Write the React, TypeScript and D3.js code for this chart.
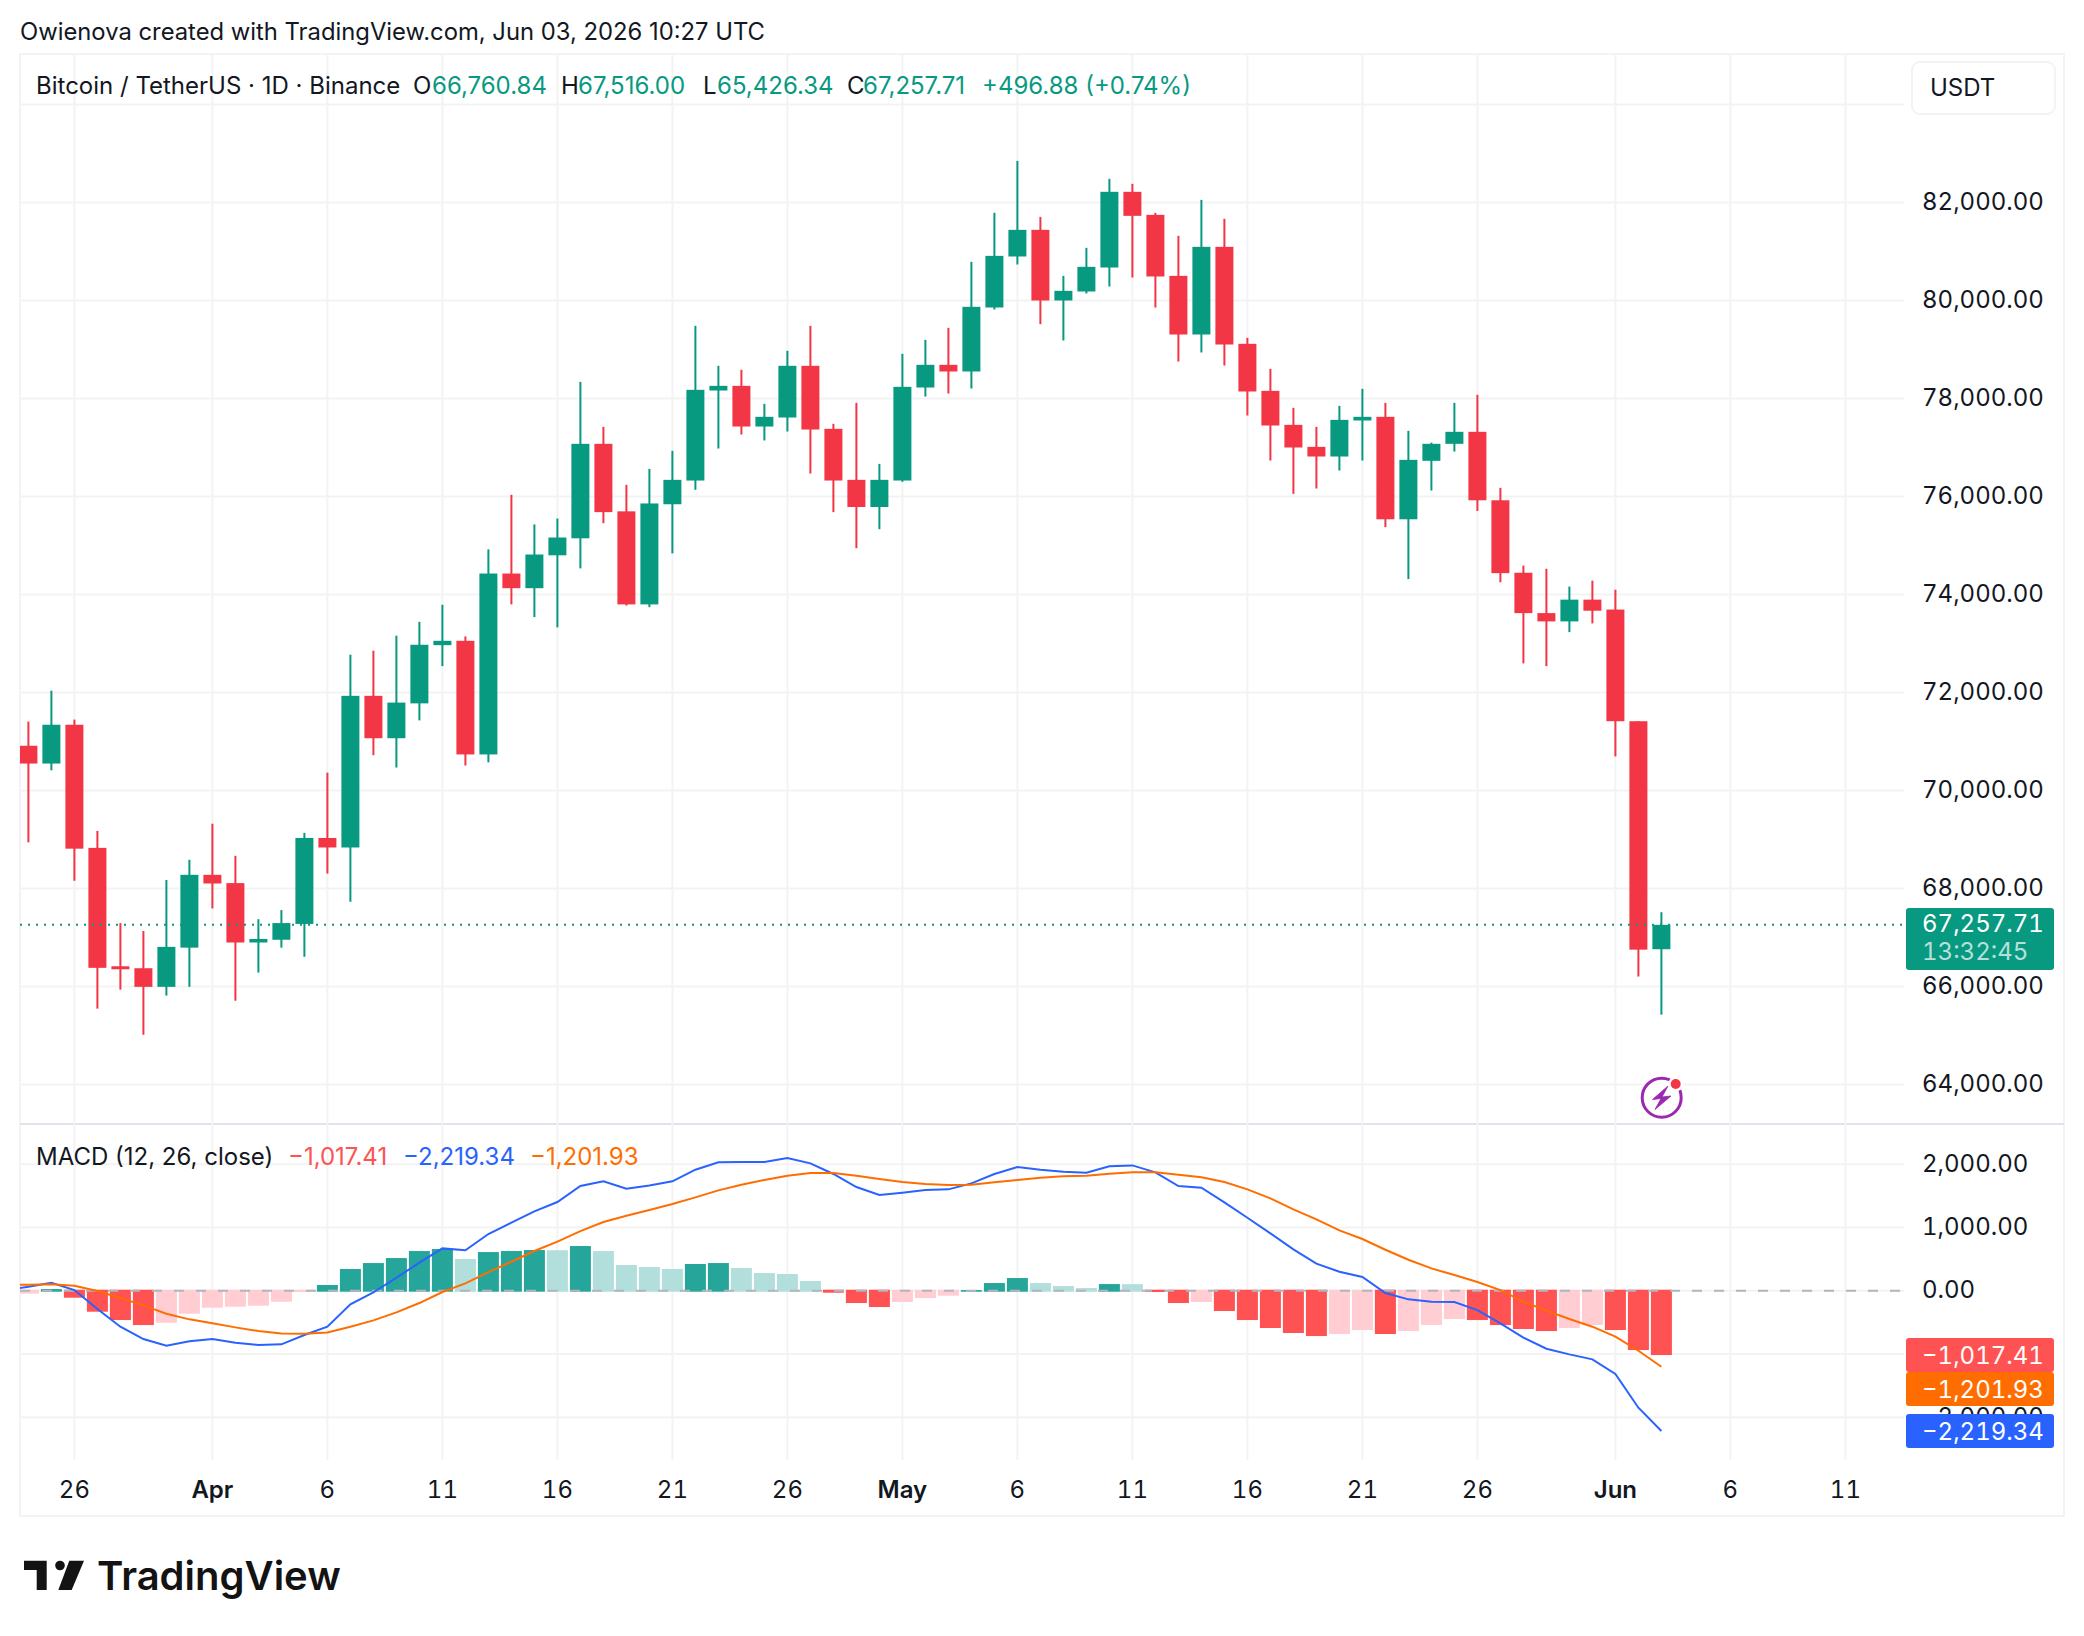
import React from "react";
import * as d3 from "d3";

// daily candles, Mar 24 -> Jun 3
const opens = [70913, 70550, 71342, 68829, 66413, 66373, 65993, 66793, 68279, 68110, 66898, 66954, 67277, 69031, 68837, 71932, 71067, 71778, 72966, 73055, 70736, 74428, 74129, 74800, 75147, 77075, 75697, 73798, 75842, 76326, 78163, 78258, 77428, 77612, 78667, 77381, 76340, 75786, 76326, 78224, 78687, 78551, 79857, 80898, 81442, 80000, 80184, 80673, 82218, 81748, 80503, 79306, 81095, 79116, 78156, 77462, 77013, 76816, 77551, 77626, 75535, 76728, 77075, 77320, 75923, 74444, 73620, 73451, 73895, 73693, 71414, 66760.84];
const highs = [71406, 72037, 71447, 69176, 67294, 67132, 68174, 68586, 69322, 68667, 67374, 67560, 69136, 70364, 72772, 72853, 73160, 73442, 73790, 73144, 74921, 76034, 75430, 75551, 78340, 77421, 76238, 76564, 76932, 79483, 78667, 78585, 77891, 78973, 79483, 77483, 77911, 76666, 78911, 79197, 79442, 80789, 81789, 82850, 81707, 80503, 81075, 82483, 82381, 81789, 81320, 82054, 81667, 79238, 78605, 77809, 77421, 77850, 78197, 77911, 77340, 77100, 77911, 78075, 76177, 74590, 74525, 74162, 74283, 74097, 71414, 67516];
const lows = [68942, 70412, 68158, 65548, 65936, 65015, 65815, 65993, 67593, 65710, 66284, 66793, 66607, 68304, 67730, 70720, 70469, 71431, 72538, 70509, 70574, 73798, 73539, 73329, 74533, 75455, 73774, 73741, 74840, 76136, 76979, 77265, 77143, 77326, 76469, 75681, 74945, 75333, 76300, 78041, 78102, 78204, 79816, 80735, 79517, 79184, 80143, 80286, 80469, 79857, 78755, 78939, 78673, 77653, 76734, 76054, 76163, 76530, 76734, 75374, 74315, 76122, 76918, 75705, 74250, 72594, 72538, 73232, 73410, 70695, 66203, 65426.34];
const closes = [70550, 71342, 68813, 66381, 66381, 65993, 66809, 68279, 68102, 66898, 66970, 67294, 69031, 68837, 71932, 71067, 71794, 72974, 73055, 70736, 74428, 74129, 74816, 75163, 77075, 75681, 73798, 75858, 76340, 78177, 78258, 77428, 77626, 78667, 77367, 76326, 75786, 76340, 78238, 78687, 78551, 79871, 80911, 81442, 80000, 80197, 80687, 82218, 81728, 80490, 79306, 81095, 79102, 78143, 77449, 77000, 76816, 77564, 77626, 75535, 76748, 77075, 77320, 75923, 74436, 73620, 73451, 73895, 73669, 71414, 66752, 67257.71];

// MACD pane, the two lines start one day earlier (Mar 23) and run off the left edge
const histogram = [-47, 26, -111, -332, -464, -543, -506, -364, -269, -253, -237, -174, -21, 90, 343, 437, 516, 627, 659, 501, 611, 627, 643, 640, 706, 627, 406, 374, 343, 422, 437, 358, 279, 264, 153, -32, -195, -258, -179, -116, -79, 10, 121, 200, 121, 74, 42, 105, 103, -21, -195, -179, -321, -464, -590, -669, -717, -685, -622, -685, -638, -543, -448, -464, -543, -606, -638, -590, -543, -622, -938, -1017.41];
const histBefore = -60;
const macdLine = [10, 63, 126, 10, -290, -569, -764, -870, -801, -764, -822, -859, -848, -701, -569, -216, -26, 205, 443, 669, 638, 896, 1075, 1254, 1402, 1655, 1729, 1613, 1665, 1729, 1913, 2029, 2034, 2034, 2097, 2013, 1845, 1639, 1512, 1549, 1592, 1602, 1697, 1845, 1955, 1913, 1881, 1866, 1966, 1981, 1871, 1655, 1628, 1397, 1154, 906, 653, 427, 300, 216, -37, -137, -174, -179, -306, -516, -743, -917, -1007, -1086, -1317, -1850, -2219.34];
const signalLine = [90, 95, 100, 79, -5, -116, -232, -364, -453, -516, -580, -638, -675, -680, -659, -569, -469, -343, -195, -21, 116, 295, 458, 627, 775, 943, 1086, 1186, 1275, 1370, 1476, 1586, 1676, 1750, 1818, 1860, 1860, 1818, 1765, 1718, 1686, 1670, 1676, 1713, 1750, 1787, 1808, 1818, 1850, 1871, 1871, 1834, 1792, 1718, 1602, 1460, 1286, 1128, 954, 817, 648, 490, 353, 248, 137, 10, -174, -316, -448, -569, -727, -949, -1201.93];

const priceTicks = [84000, 82000, 80000, 78000, 76000, 74000, 72000, 70000, 68000, 66000, 64000];
const macdTicks = [2000, 1000, 0, -1000, -2000];
const timeTicks = [
    { i: 2, label: "26" }, { i: 8, label: "Apr", bold: true }, { i: 13, label: "6" }, { i: 18, label: "11" },
    { i: 23, label: "16" }, { i: 28, label: "21" }, { i: 33, label: "26" }, { i: 38, label: "May", bold: true },
    { i: 43, label: "6" }, { i: 48, label: "11" }, { i: 53, label: "16" }, { i: 58, label: "21" },
    { i: 63, label: "26" }, { i: 69, label: "Jun", bold: true }, { i: 74, label: "6" }, { i: 79, label: "11" },
];
const lastPrice = 67257.71;

const GREEN = "#089981";
const RED = "#F23645";
const INK = "#131722";
const GRID = "#F3F3F4";
const FONT = "Inter, sans-serif";

const x = d3.scaleLinear().domain([2, 69]).range([74.4, 1615.4]);
const yPrice = d3.scaleLinear().domain([82000, 64000]).range([202.5, 1084.5]);
const yMacd = d3.scaleLinear().domain([2000, -2000]).range([1164.2, 1417.2]);

const fmt = (v: number) => d3.format(",.2f")(Math.abs(v));
const minus = (v: number) => (v < 0 ? "\u2212" : "") + fmt(v);

const histColor = (i: number) => {
    const v = histogram[i];
    const prev = i > 0 ? histogram[i - 1] : histBefore;
    if (v >= 0) return v >= prev ? "#26A69A" : "#B2DFDB";
    return v <= prev ? "#FF5252" : "#FFCDD2";
};

const lineGen = d3.line<number>().x((_, i) => x(i - 1)).y((d) => yMacd(d));

const legendItems = [
    { x: 36, text: "Bitcoin / TetherUS \u00b7 1D \u00b7 Binance", color: INK },
    { x: 413, text: "O", color: INK },
    { x: 432, text: fmt(opens[71]), color: GREEN },
    { x: 561, text: "H", color: INK },
    { x: 578, text: fmt(highs[71]), color: GREEN },
    { x: 703, text: "L", color: INK },
    { x: 717, text: fmt(lows[71]), color: GREEN },
    { x: 847, text: "C", color: INK },
    { x: 863, text: fmt(closes[71]), color: GREEN },
    { x: 982, text: "+496.88 (+0.74%)", color: GREEN },
];
const macdLegend = [
    { x: 36, text: "MACD (12, 26, close)", color: INK },
    { x: 288, text: minus(-1017.41), color: "#FF5252" },
    { x: 403, text: minus(-2219.34), color: "#2962FF" },
    { x: 530, text: minus(-1201.93), color: "#FF6D00" },
];
const macdBadges = [
    { y: 1338, value: -1017.41, color: "#FF5252" },
    { y: 1372, value: -1201.93, color: "#FF6D00" },
    { y: 1414, value: -2219.34, color: "#2962FF" },
];

const tabular: React.CSSProperties = { fontVariantNumeric: "tabular-nums" };

const App: React.FC = () => {
    const labelSize = 24;
    return (
        <svg
            width={2084}
            height={1636}
            style={{ position: "absolute", left: 0, top: 0, background: "#fff" }}
            fontFamily={FONT}
        >
            <defs>
                <clipPath id="panes">
                    <rect x={20} y={54} width={1884} height={1406} />
                </clipPath>
            </defs>

            <text x={20} y={40} fontSize={23.8} fill={INK}>
                Owienova created with TradingView.com, Jun 03, 2026 10:27 UTC
            </text>

            {/* frame */}
            <rect x={20} y={54} width={2044} height={1462} fill="none" stroke={GRID} strokeWidth={2} />
            <line x1={20} x2={2064} y1={1124} y2={1124} stroke="#E0E3EB" strokeWidth={2} />

            {/* grid */}
            {timeTicks.map((t) => (
                <line key={t.i} x1={x(t.i)} x2={x(t.i)} y1={54} y2={1460} stroke={GRID} strokeWidth={2} />
            ))}
            {priceTicks.map((t) => (
                <line key={t} x1={20} x2={1904} y1={yPrice(t)} y2={yPrice(t)} stroke={GRID} strokeWidth={2} />
            ))}
            {macdTicks.map((t) => (
                <line key={t} x1={20} x2={1904} y1={yMacd(t)} y2={yMacd(t)} stroke={GRID} strokeWidth={2} />
            ))}

            <g clipPath="url(#panes)">
                {/* candles */}
                {opens.map((o, i) => {
                    const c = closes[i];
                    const color = c >= o ? GREEN : RED;
                    const top = yPrice(Math.max(o, c));
                    const h = Math.max(yPrice(Math.min(o, c)) - top, 3);
                    return (
                        <g key={i}>
                            <rect x={x(i) - 1} y={yPrice(highs[i])} width={2} height={yPrice(lows[i]) - yPrice(highs[i])} fill={color} />
                            <rect x={x(i) - 9} y={top} width={18} height={h} fill={color} />
                        </g>
                    );
                })}

                <line
                    x1={20}
                    x2={1904}
                    y1={yPrice(lastPrice)}
                    y2={yPrice(lastPrice)}
                    stroke={GREEN}
                    strokeWidth={2}
                    strokeDasharray="2 6"
                />

                {/* histogram */}
                {histogram.map((v, i) => {
                    const y0 = yMacd(0);
                    const y1 = yMacd(v);
                    return (
                        <rect
                            key={i}
                            x={x(i) - 10.5}
                            y={Math.min(y0, y1) - (v < 0 ? 1 : 0)}
                            width={21}
                            height={Math.abs(y1 - y0) + 1}
                            fill={histColor(i)}
                        />
                    );
                })}
                <line x1={20} x2={1904} y1={yMacd(0)} y2={yMacd(0)} stroke="#B2B5BE" strokeWidth={2} strokeDasharray="10 12" />
                <path d={lineGen(macdLine) ?? ""} fill="none" stroke="#2962FF" strokeWidth={2} />
                <path d={lineGen(signalLine) ?? ""} fill="none" stroke="#FF6D00" strokeWidth={2} />
            </g>

            {/* legends */}
            {legendItems.map((d) => (
                <text key={d.x} x={d.x} y={94} fontSize={labelSize} fill={d.color}>{d.text}</text>
            ))}
            {macdLegend.map((d) => (
                <text key={d.x} x={d.x} y={1165} fontSize={labelSize} fill={d.color}>{d.text}</text>
            ))}

            {/* price axis */}
            {priceTicks.slice(1).map((t) => (
                <text key={t} x={1922} y={yPrice(t) - 1} dy="0.36em" fontSize={labelSize} fill={INK} style={tabular}>
                    {fmt(t)}
                </text>
            ))}
            {macdTicks.map((t) => (
                <text key={t} x={1922} y={yMacd(t) - 1} dy="0.36em" fontSize={labelSize} fill={INK} style={tabular}>
                    {minus(t)}
                </text>
            ))}

            {/* USDT button */}
            <rect x={1912} y={62} width={143} height={52} rx={8} fill="#fff" stroke={GRID} strokeWidth={2} />
            <text x={1930} y={96} fontSize={labelSize} fill={INK}>USDT</text>

            {/* last price badge */}
            <rect x={1906} y={908} width={148} height={62} rx={3} fill={GREEN} />
            <text x={1922} y={932} fontSize={labelSize} fill="#fff" style={tabular}>{fmt(lastPrice)}</text>
            <text x={1922} y={960} fontSize={labelSize} fill="#B5E0D9" style={tabular}>13:32:45</text>

            {/* macd badges */}
            {macdBadges.map((b) => (
                <g key={b.value}>
                    <rect x={1906} y={b.y} width={148} height={34} rx={3} fill={b.color} />
                    <text x={1922} y={b.y + 17} dy="0.36em" fontSize={labelSize} fill="#fff" style={tabular}>{minus(b.value)}</text>
                </g>
            ))}

            {/* time axis */}
            {timeTicks.map((t) => (
                <text
                    key={t.i}
                    x={x(t.i)}
                    y={1498}
                    textAnchor="middle"
                    fontSize={labelSize}
                    fontWeight={t.bold ? 600 : 400}
                    fill={INK}
                    style={tabular}
                >
                    {t.label}
                </text>
            ))}

            {/* bolt icon */}
            <circle cx={1661.7} cy={1097.7} r={19.5} fill="#fff" stroke="#9C27B0" strokeWidth={3} />
            <path d="M1668 1086 L1652.5 1099.5 L1661 1098.5 L1655 1109.5 L1671 1096 L1662 1097 Z" fill="#9C27B0" stroke="#9C27B0" strokeWidth={0.8} />
            <circle cx={1675.7} cy={1084} r={7.5} fill="#fff" />
            <circle cx={1675.7} cy={1084} r={5} fill={RED} />

            {/* logo */}
            <g fill="#131313">
                <path d="M24 1560.7 H46.7 V1590 H36.7 V1570 H24 Z" />
                <circle cx={60} cy={1565.5} r={4.8} />
                <path d="M69.3 1560.7 H84 L71.7 1590 H58.3 Z" />
                <text x={97} y={1590} fontSize={40} fontWeight={600}>TradingView</text>
            </g>
        </svg>
    );
};

export default App;
